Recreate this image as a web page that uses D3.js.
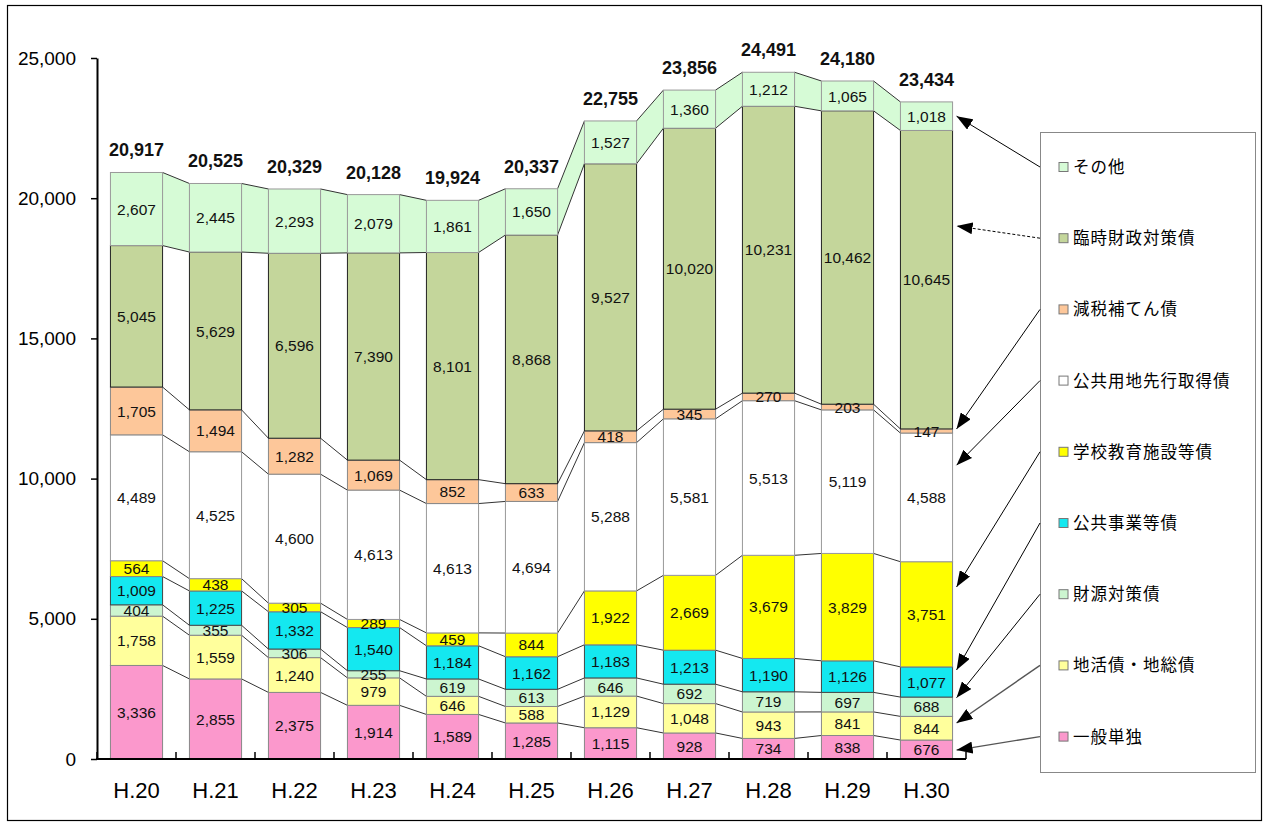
<!DOCTYPE html>
<html>
<head>
<meta charset="utf-8">
<script src="https://cdn.jsdelivr.net/npm/d3@7"></script>
<style>
  body { margin: 0; background: #fff; }
  svg { display: block; }
</style>
</head>
<body>
<svg id="chart" width="1266" height="825"></svg>
<script>
// 年度
const years = ["H.20", "H.21", "H.22", "H.23", "H.24", "H.25", "H.26", "H.27", "H.28", "H.29", "H.30"];
// 合計
const totals = [20917, 20525, 20329, 20128, 19924, 20337, 22755, 23856, 24491, 24180, 23434];

// 区分別（下から積み上げ）
const ippanTandoku   = [3336, 2855, 2375, 1914, 1589, 1285, 1115, 928, 734, 838, 676];
const chikatsuChiso  = [1758, 1559, 1240, 979, 646, 588, 1129, 1048, 943, 841, 844];
const zaigenTaisaku  = [404, 355, 306, 255, 619, 613, 646, 692, 719, 697, 688];
const koukyouJigyou  = [1009, 1225, 1332, 1540, 1184, 1162, 1183, 1213, 1190, 1126, 1077];
const gakkouKyouiku  = [564, 438, 305, 289, 459, 844, 1922, 2669, 3679, 3829, 3751];
const koukyouYouchi  = [4489, 4525, 4600, 4613, 4613, 4694, 5288, 5581, 5513, 5119, 4588];
const genzeiHoten    = [1705, 1494, 1282, 1069, 852, 633, 418, 345, 270, 203, 147];
const rinjiZaisei    = [5045, 5629, 6596, 7390, 8101, 8868, 9527, 10020, 10231, 10462, 10645];
const sonota         = [2607, 2445, 2293, 2079, 1861, 1650, 1527, 1360, 1212, 1065, 1018];

const seriesNames = ["一般単独", "地活債・地総債", "財源対策債", "公共事業等債", "学校教育施設等債",
                     "公共用地先行取得債", "減税補てん債", "臨時財政対策債", "その他"];
const yTicks = [0, 5000, 10000, 15000, 20000, 25000];

const seriesValues = [ippanTandoku, chikatsuChiso, zaigenTaisaku, koukyouJigyou, gakkouKyouiku,
                      koukyouYouchi, genzeiHoten, rinjiZaisei, sonota];

// 表示スタイル
const fills   = ["#fb98cc", "#ffff9c", "#ccf5d0", "#14e8f0", "#ffff00", "#ffffff", "#fdc79a", "#c4d69b", "#d6fbd6"];
const strokes = ["#888", "#888", "#888", "#444", "#888", "#999", "#888", "#222", "#999"];
// 凡例からの矢印が指す位置（区分内の割合）
const arrowFrac = [0.47, 0.72, 0.97, 0.9, 0.76, 0.75, 1.0, 0.68, 0.5];

const svg = d3.select("#chart");
const font = "'Liberation Sans', Arial, sans-serif";
const narrowFont = "'Liberation Sans Narrow', 'Arial Narrow', 'Liberation Sans', Arial, sans-serif";
const jpFont = "'Noto Sans CJK JP', 'Noto Sans', sans-serif";

// 外枠
svg.append("rect").attr("x", 7.5).attr("y", 5.5).attr("width", 1254).attr("height", 815)
  .attr("fill", "none").attr("stroke", "#000").attr("stroke-width", 1.2);

const x = d3.scaleBand().domain(years).range([97, 966]).paddingInner(0.34).paddingOuter(0.17);
const y = d3.scaleLinear().domain([0, 25000]).range([759, 58]);
const bw = x.bandwidth();

// 積み上げ
const rows = years.map((yr, i) => {
  const r = { year: yr };
  seriesNames.forEach((n, s) => r[n] = seriesValues[s][i]);
  return r;
});
const stacked = d3.stack().keys(seriesNames)(rows);

// その他の帯（棒の間も塗りつぶし）
const topSeries = stacked[stacked.length - 1];
for (let i = 0; i < years.length - 1; i++) {
  const a = topSeries[i], b = topSeries[i + 1];
  const x0 = x(years[i]) + bw, x1 = x(years[i + 1]);
  svg.append("path")
    .attr("d", `M${x0},${y(a[1])}L${x1},${y(b[1])}L${x1},${y(b[0])}L${x0},${y(a[0])}Z`)
    .attr("fill", fills[8]).attr("stroke", "none");
}

// 系列線
stacked.forEach((layer, s) => {
  for (let i = 0; i < years.length - 1; i++) {
    svg.append("line")
      .attr("x1", x(years[i]) + bw).attr("y1", y(layer[i][1]))
      .attr("x2", x(years[i + 1])).attr("y2", y(layer[i + 1][1]))
      .attr("stroke", "#333").attr("stroke-width", 1);
  }
});

// 棒
stacked.forEach((layer, s) => {
  svg.append("g").selectAll("rect").data(layer).join("rect")
    .attr("x", (d, i) => x(years[i]))
    .attr("y", d => y(d[1]))
    .attr("width", bw)
    .attr("height", d => y(d[0]) - y(d[1]))
    .attr("fill", fills[s])
    .attr("stroke", strokes[s])
    .attr("stroke-width", 1);
});

// 区分の値
stacked.forEach((layer, s) => {
  svg.append("g").selectAll("text").data(layer).join("text")
    .attr("x", (d, i) => x(years[i]) + bw / 2)
    .attr("y", d => y((d[0] + d[1]) / 2))
    .attr("dy", "0.36em")
    .attr("text-anchor", "middle")
    .attr("font-family", font)
    .attr("font-size", 15.5)
    .attr("fill", "#111")
    .text((d, i) => d3.format(",")(seriesValues[s][i]));
});

// 合計
svg.append("g").selectAll("text").data(totals).join("text")
  .attr("x", (d, i) => x(years[i]) + bw / 2)
  .attr("y", (d, i) => y(topSeries[i][1]) - 16)
  .attr("text-anchor", "middle")
  .attr("font-family", font)
  .attr("font-size", 18)
  .attr("font-weight", "bold")
  .attr("fill", "#111")
  .text(d => d3.format(",")(d));

// Y軸
const yAxis = svg.append("g").attr("transform", "translate(97,0)")
  .call(d3.axisLeft(y).tickValues(yTicks).tickFormat(d3.format(",")).tickSize(6).tickSizeOuter(0).tickPadding(15));
yAxis.select(".domain").attr("stroke", "#000").attr("stroke-width", 2);
yAxis.selectAll(".tick line").attr("stroke", "#000").attr("stroke-width", 1.5);
yAxis.selectAll(".tick text").attr("font-family", font).attr("font-size", 19).attr("fill", "#000");

// X軸
svg.append("line").attr("x1", 96).attr("x2", 966).attr("y1", 759).attr("y2", 759)
  .attr("stroke", "#000").attr("stroke-width", 2);
const step = x.step();
const bounds = d3.range(years.length + 1).map(k => 97 + k * step);
svg.append("g").selectAll("line").data(bounds).join("line")
  .attr("x1", d => d).attr("x2", d => d).attr("y1", 759).attr("y2", 752)
  .attr("stroke", "#000").attr("stroke-width", 1.5);
svg.append("g").selectAll("text").data(years).join("text")
  .attr("x", d => x(d) + bw / 2)
  .attr("y", 798)
  .attr("text-anchor", "middle")
  .attr("font-family", narrowFont)
  .attr("font-size", 22)
  .attr("fill", "#000")
  .text(d => d);

// 凡例
const legX = 1040, legY = 132, legW = 215, legH = 640;
svg.append("rect").attr("x", legX + 0.5).attr("y", legY + 0.5).attr("width", legW).attr("height", legH)
  .attr("fill", "#fff").attr("stroke", "#888").attr("stroke-width", 1);
const legendOrder = d3.range(seriesNames.length).reverse();
const entryY = k => 167 + k * 71.2;
const leg = svg.append("g");
legendOrder.forEach((s, k) => {
  const cy = entryY(k);
  leg.append("rect").attr("x", 1059).attr("y", cy - 4.5).attr("width", 9).attr("height", 9)
    .attr("fill", fills[s]).attr("stroke", "#777").attr("stroke-width", 1);
  leg.append("text").attr("x", 1073).attr("y", cy).attr("dy", "0.36em")
    .attr("font-family", jpFont).attr("font-size", 16.5).attr("letter-spacing", 1)
    .attr("fill", "#000")
    .text(seriesNames[s]);
});

// 矢印
const defs = svg.append("defs");
defs.append("marker").attr("id", "arrowHead")
  .attr("viewBox", "0 0 16 12").attr("refX", 16).attr("refY", 6)
  .attr("markerWidth", 16).attr("markerHeight", 12).attr("markerUnits", "userSpaceOnUse")
  .attr("orient", "auto")
  .append("path").attr("d", "M0,0L16,6L0,12Z").attr("fill", "#000");

const last = years.length - 1;
const tipX = x(years[last]) + bw + 4;
legendOrder.forEach((s, k) => {
  const seg = stacked[s][last];
  const ty = y(seg[0] + (seg[1] - seg[0]) * arrowFrac[s]);
  svg.append("line")
    .attr("x1", legX).attr("y1", entryY(k))
    .attr("x2", tipX).attr("y2", ty)
    .attr("stroke", s <= 1 ? "#555" : "#000")
    .attr("stroke-width", s <= 1 ? 1.4 : 1)
    .attr("stroke-dasharray", s === 7 ? "3,2" : null)
    .attr("marker-end", "url(#arrowHead)");
});
</script>
</body>
</html>
